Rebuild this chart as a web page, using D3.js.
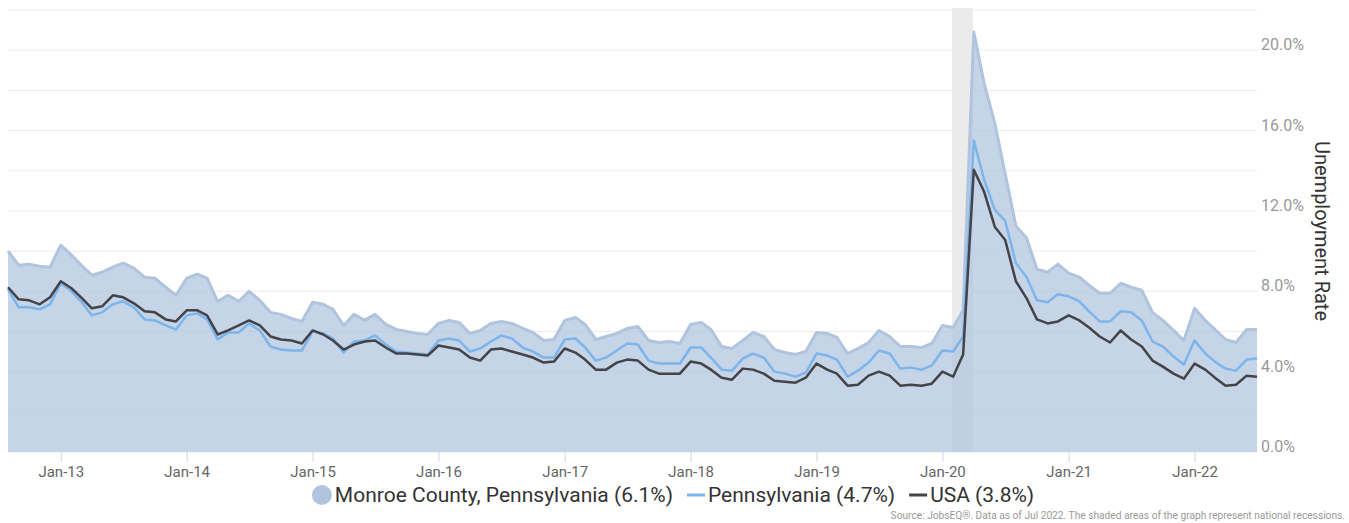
<!DOCTYPE html>
<html>
<head>
<meta charset="utf-8">
<script src="https://cdn.jsdelivr.net/npm/d3@7"></script>
<style>
  body { margin: 0; background: #fff; font-family: Roboto, "Noto Sans", sans-serif; }
</style>
</head>
<body>
<script>
// first month of the series (Aug 2012), one value per month after it
const startMonth = new Date(2012, 7, 1);

const monroe = [
  10.0, 9.3, 9.35, 9.25, 9.2,
  10.3, 9.8, 9.3, 8.8, 8.95, 9.2, 9.4, 9.15, 8.7, 8.65, 8.2, 7.8,
  8.65, 8.85, 8.65, 7.5, 7.8, 7.5, 8.0, 7.55, 6.95, 6.85, 6.65, 6.5,
  7.45, 7.35, 7.1, 6.3, 6.85, 6.55, 6.85, 6.35, 6.1, 6.0, 5.9, 5.85,
  6.4, 6.55, 6.45, 5.9, 6.05, 6.4, 6.5, 6.4, 6.15, 5.95, 5.55, 5.6,
  6.55, 6.7, 6.35, 5.6, 5.75, 5.9, 6.15, 6.25, 5.55, 5.45, 5.5, 5.4,
  6.35, 6.45, 6.1, 5.25, 5.15, 5.55, 5.95, 5.75, 5.1, 4.95, 4.85, 5.0,
  5.95, 5.9, 5.7, 4.9, 5.15, 5.45, 6.05, 5.75, 5.25, 5.25, 5.2, 5.4,
  6.3, 6.2, 7.05, 20.9, 18.35, 16.35, 13.85, 11.25, 10.65, 9.1, 8.95, 9.35,
  8.9, 8.7, 8.3, 7.9, 7.9, 8.4, 8.2, 8.05, 6.95, 6.55, 6.05, 5.55,
  7.15, 6.55, 6.1, 5.6, 5.45, 6.1, 6.1
];

const pennsylvania = [
  8.1, 7.2, 7.2, 7.1, 7.35,
  8.4, 8.0, 7.5, 6.8, 6.95, 7.35, 7.5, 7.2, 6.6, 6.55, 6.3, 6.1,
  6.8, 6.9, 6.6, 5.6, 5.95, 5.95, 6.4, 6.05, 5.25, 5.1, 5.05, 5.05,
  6.0, 5.9, 5.65, 4.95, 5.5, 5.55, 5.8, 5.35, 5.0, 4.95, 4.9, 4.85,
  5.55, 5.65, 5.55, 5.0, 5.15, 5.5, 5.8, 5.65, 5.2, 5.0, 4.7, 4.7,
  5.6, 5.65, 5.2, 4.55, 4.7, 5.05, 5.4, 5.35, 4.55, 4.4, 4.4, 4.4,
  5.2, 5.2, 4.7, 4.1, 4.05, 4.65, 4.9, 4.7, 4.0, 3.9, 3.75, 3.95,
  4.9, 4.8, 4.6, 3.75, 4.05, 4.45, 5.05, 4.9, 4.15, 4.2, 4.1, 4.3,
  5.05, 5.0, 5.75, 15.5, 13.55, 12.05, 11.5, 9.4, 8.7, 7.55, 7.45, 7.85,
  7.75, 7.5, 7.0, 6.5, 6.5, 7.0, 6.95, 6.55, 5.5, 5.25, 4.75, 4.35,
  5.55, 4.9, 4.5, 4.15, 4.05, 4.6, 4.65
];

const usa = [
  8.2, 7.6, 7.55, 7.35, 7.7,
  8.5, 8.15, 7.7, 7.15, 7.25, 7.8, 7.7, 7.4, 7.0, 6.95, 6.6, 6.5,
  7.05, 7.05, 6.8, 5.85, 6.05, 6.3, 6.55, 6.3, 5.75, 5.6, 5.55, 5.4,
  6.05, 5.85, 5.55, 5.1, 5.35, 5.5, 5.55, 5.2, 4.9, 4.9, 4.85, 4.8,
  5.3, 5.2, 5.1, 4.7, 4.55, 5.1, 5.15, 5.0, 4.85, 4.7, 4.45, 4.5,
  5.15, 4.95, 4.6, 4.1, 4.1, 4.45, 4.6, 4.55, 4.1, 3.9, 3.9, 3.9,
  4.5, 4.4, 4.1, 3.7, 3.6, 4.15, 4.1, 3.9, 3.55, 3.5, 3.45, 3.7,
  4.4, 4.1, 3.9, 3.3, 3.35, 3.8, 4.0, 3.8, 3.3, 3.35, 3.3, 3.4,
  4.0, 3.75, 4.85, 14.05, 12.95, 11.2, 10.55, 8.5, 7.65, 6.6, 6.4, 6.5,
  6.8, 6.55, 6.2, 5.75, 5.45, 6.05, 5.6, 5.25, 4.55, 4.25, 3.9, 3.65,
  4.4, 4.1, 3.7, 3.3, 3.35, 3.8, 3.75
];

const xTickLabels = ["Jan-13", "Jan-14", "Jan-15", "Jan-16", "Jan-17",
                     "Jan-18", "Jan-19", "Jan-20", "Jan-21", "Jan-22"];
const yLabelValues = [0, 4, 8, 12, 16, 20];
const gridValues = [0, 2, 4, 6, 8, 10, 12, 14, 16, 18, 20, 22];
const recessionStart = new Date(2020, 1, 1);
const recessionEnd = new Date(2020, 3, 1);

const legendNames = ["Monroe County, Pennsylvania (6.1%)", "Pennsylvania (4.7%)", "USA (3.8%)"];

const width = 1349, height = 523;
const margin = { left: 8, right: 92, top: 10, bottom: 71 };

const parseTick = d3.timeParse("%b-%y");
const months = monroe.map((v, i) => d3.timeMonth.offset(startMonth, i));

const svg = d3.select("body").append("svg")
  .attr("width", width)
  .attr("height", height);

const x = d3.scaleTime()
  .domain([months[0], months[months.length - 1]])
  .range([margin.left, width - margin.right]);

const y = d3.scaleLinear()
  .domain([0, 22])
  .range([height - margin.bottom, margin.top]);

// gridlines
svg.append("g")
  .selectAll("line")
  .data(gridValues)
  .enter().append("line")
  .attr("x1", margin.left)
  .attr("x2", width - margin.right)
  .attr("y1", d => y(d))
  .attr("y2", d => y(d))
  .style("stroke", "#ececec")
  .style("stroke-width", 1);

// recession band
svg.append("rect")
  .attr("x", x(recessionStart) - 1)
  .attr("width", x(recessionEnd) - x(recessionStart))
  .attr("y", margin.top - 2)
  .attr("height", y(0) - margin.top + 2)
  .style("fill", "#ebebeb");

// Monroe county area
const area = d3.area()
  .x((d, i) => x(months[i]))
  .y0(y(0))
  .y1(d => y(d));

svg.append("path")
  .datum(monroe)
  .attr("d", area)
  .style("fill", "#b0c4de")
  .style("fill-opacity", 0.72);

const line = d3.line()
  .x((d, i) => x(months[i]))
  .y(d => y(d));

svg.append("path")
  .datum(monroe)
  .attr("d", line)
  .style("fill", "none")
  .style("stroke", "#b0c4de")
  .style("stroke-width", 3)
  .style("stroke-linejoin", "round");

svg.append("path")
  .datum(pennsylvania)
  .attr("d", line)
  .style("fill", "none")
  .style("stroke", "#7cb5ec")
  .style("stroke-width", 2.5)
  .style("stroke-linejoin", "round");

svg.append("path")
  .datum(usa)
  .attr("d", line)
  .style("fill", "none")
  .style("stroke", "#434348")
  .style("stroke-width", 2.5)
  .style("stroke-linejoin", "round");

// x axis
const xAxis = d3.axisBottom(x)
  .tickValues(xTickLabels.map(parseTick))
  .tickFormat(d3.timeFormat("%b-%y"))
  .tickSizeInner(10)
  .tickSizeOuter(0)
  .tickPadding(4);

const gx = svg.append("g")
  .attr("transform", `translate(0,${y(0)})`)
  .call(xAxis);
gx.select(".domain").remove();
gx.selectAll(".tick line").style("stroke", "#ccd6eb");
gx.selectAll(".tick text")
  .style("font-family", "Roboto")
  .style("font-size", "15px")
  .style("fill", "#666");

// y axis labels on the right
const gy = svg.append("g")
  .attr("transform", `translate(${width - margin.right},0)`)
  .call(d3.axisRight(y)
    .tickValues(yLabelValues)
    .tickFormat(d => d3.format(".1f")(d) + "%")
    .tickSize(0)
    .tickPadding(4));
gy.select(".domain").remove();
gy.selectAll(".tick text")
  .attr("dy", "-0.02em")
  .style("font-family", "Roboto")
  .style("font-size", "16px")
  .style("fill", "#999");

// axis title
svg.append("text")
  .attr("transform", `translate(1315,231) rotate(90)`)
  .attr("text-anchor", "middle")
  .style("font-family", "Roboto")
  .style("font-size", "20px")
  .style("fill", "#333")
  .text("Unemployment Rate");

// legend
const legend = svg.append("g");
let cursor = 0;
legendNames.forEach((name, i) => {
  const item = legend.append("g").attr("transform", `translate(${cursor},0)`);
  let symW;
  if (i === 0) {
    item.append("circle").attr("cx", 10).attr("cy", 0).attr("r", 10)
      .style("fill", "#b0c4de");
    symW = 20;
  } else {
    item.append("line").attr("x1", 0).attr("x2", 18).attr("y1", 0).attr("y2", 0)
      .style("stroke", i === 1 ? "#7cb5ec" : "#434348")
      .style("stroke-width", 3);
    symW = 18;
  }
  const t = item.append("text")
    .attr("x", symW + 3)
    .attr("y", 7)
    .style("font-family", "Roboto")
    .style("font-size", "21px")
    .style("fill", "#333")
    .text(name);
  cursor += symW + 3 + t.node().getComputedTextLength() + 14;
});
const legendW = cursor - 14;
legend.attr("transform", `translate(${673 - legendW / 2},495)`);

// source note
svg.append("text")
  .attr("x", 1345)
  .attr("y", 519)
  .attr("text-anchor", "end")
  .style("font-family", "Roboto")
  .style("font-size", "10.2px")
  .style("fill", "#999")
  .text("Source: JobsEQ®. Data as of Jul 2022. The shaded areas of the graph represent national recessions.");
</script>
</body>
</html>
